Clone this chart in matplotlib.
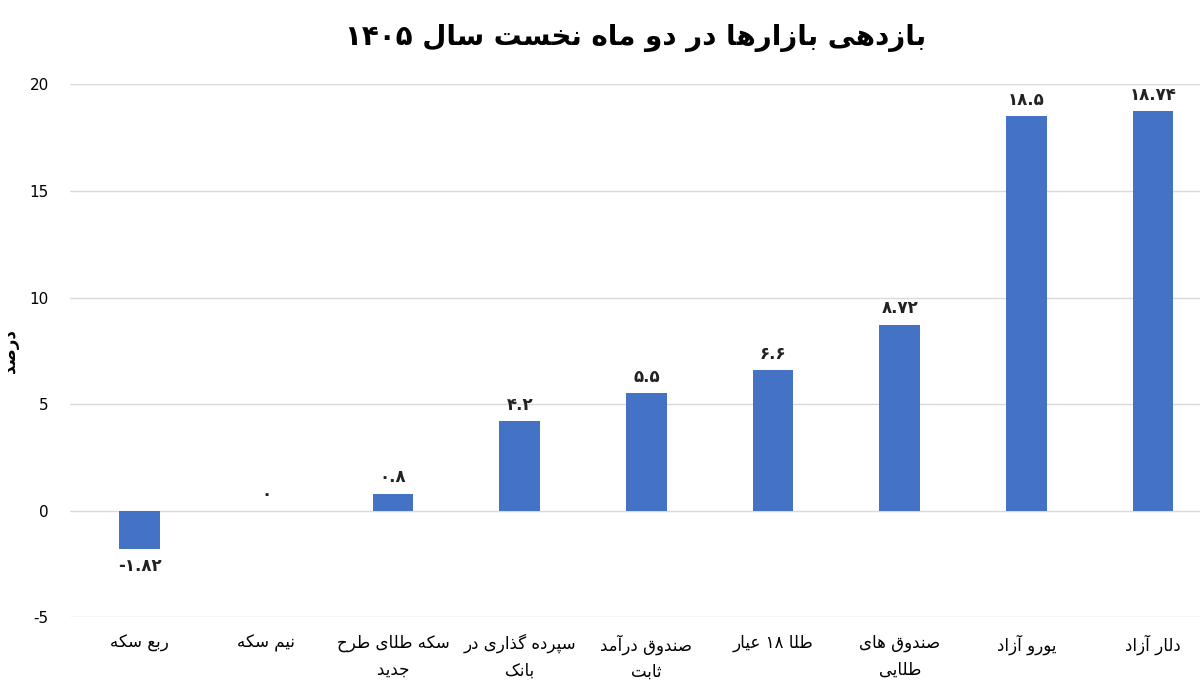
import re
import matplotlib
matplotlib.use('Agg')
import matplotlib.pyplot as plt

# Persian labels, left to right on the x axis
categories = ['ربع سکه', 'نیم سکه', 'سکه طلای طرح\nجدید', 'سپرده گذاری در\nبانک',
              'صندوق درآمد\nثابت', 'طلا ۱۸ عیار', 'صندوق های\nطلایی', 'یورو آزاد', 'دلار آزاد']
values = [-1.82, 0, 0.8, 4.2, 5.5, 6.6, 8.72, 18.5, 18.74]
value_labels = ['-۱.۸۲', '۰', '۰.۸', '۴.۲', '۵.۵', '۶.۶', '۸.۷۲', '۱۸.۵', '۱۸.۷۴']
yticks = [-5, 0, 5, 10, 15, 20]
title = 'بازدهی بازارها در دو ماه نخست سال ۱۴۰۵'
ylabel = 'درصد'

# minimal arabic shaping: (isolated, final) for right-joining, base codepoint for dual-joining
FORMS = {
    'ا': (0xFE8D, 0xFE8E), 'آ': (0xFE81, 0xFE82), 'د': (0xFEA9, 0xFEAA), 'ذ': (0xFEAB, 0xFEAC),
    'ر': (0xFEAD, 0xFEAE), 'ز': (0xFEAF, 0xFEB0), 'ژ': (0xFB8A, 0xFB8B), 'و': (0xFEED, 0xFEEE),
    'ب': (0xFE8F,), 'ت': (0xFE95,), 'ث': (0xFE99,), 'ج': (0xFE9D,), 'ح': (0xFEA1,), 'خ': (0xFEA5,),
    'س': (0xFEB1,), 'ش': (0xFEB5,), 'ص': (0xFEB9,), 'ض': (0xFEBD,), 'ط': (0xFEC1,), 'ظ': (0xFEC5,),
    'ع': (0xFEC9,), 'غ': (0xFECD,), 'ف': (0xFED1,), 'ق': (0xFED5,), 'ل': (0xFEDD,), 'م': (0xFEE1,),
    'ن': (0xFEE5,), 'ه': (0xFEE9,), 'پ': (0xFB56,), 'چ': (0xFB7A,), 'ک': (0xFB8E,), 'گ': (0xFB92,),
    'ی': (0xFBFC,),
}


def dual(c):
    return c in FORMS and len(FORMS[c]) == 1


def fa(s):
    out = []
    for line in s.split('\n'):
        shaped = ''
        for i, c in enumerate(line):
            if c not in FORMS:
                shaped += c
                continue
            prev = line[i - 1] if i > 0 else ''
            nxt = line[i + 1] if i + 1 < len(line) else ''
            jp = dual(prev)
            jn = dual(c) and nxt in FORMS
            f = FORMS[c]
            if len(f) == 2:
                shaped += chr(f[1] if jp else f[0])
            else:
                shaped += chr(f[0] + (3 if jp and jn else 1 if jp else 2 if jn else 0))
        vis = shaped[::-1]
        vis = re.sub(r'[۰-۹0-9.]+', lambda m: m.group(0)[::-1], vis)
        out.append(vis)
    return '\n'.join(out)


plt.rcParams['font.family'] = ['DejaVu Sans']

fig = plt.figure(figsize=(12, 6.92), dpi=100)
ax = fig.add_axes([0.058, 0.108, 0.942, 0.77])

x = range(len(values))
ax.bar(x, values, width=0.32, color='#4472C4', zorder=3)
for xi, v, lab in zip(x, values, value_labels):
    off = 0.35 if v >= 0 else -0.35
    ax.text(xi, v + off, lab, ha='center', va='bottom' if v >= 0 else 'top',
            fontsize=12, fontweight='bold', color='#222222')

ax.set_ylim(-5, 20)
ax.set_xlim(-0.553, len(values) - 1 + 0.37)
ax.set_yticks(yticks)
ax.set_yticklabels([str(t) for t in yticks], fontsize=11)
ax.yaxis.grid(True, color='#d9d9d9', linewidth=1, zorder=0)
for s in ax.spines.values():
    s.set_visible(False)
ax.tick_params(length=0)
ax.tick_params(axis='y', pad=15)
ax.set_xticks(list(x))
ax.set_xticklabels([fa(c) for c in categories], fontsize=12, va='top', linespacing=1.6)
ax.tick_params(axis='x', pad=12)
ax.set_ylabel(fa(ylabel), fontsize=12, fontweight='bold')
ax.yaxis.set_label_coords(-0.045, 0.5)

fig.text(0.53, 0.945, fa(title), ha='center', va='center', fontsize=20, fontweight='bold')

fig.savefig('out.png', dpi=100)
